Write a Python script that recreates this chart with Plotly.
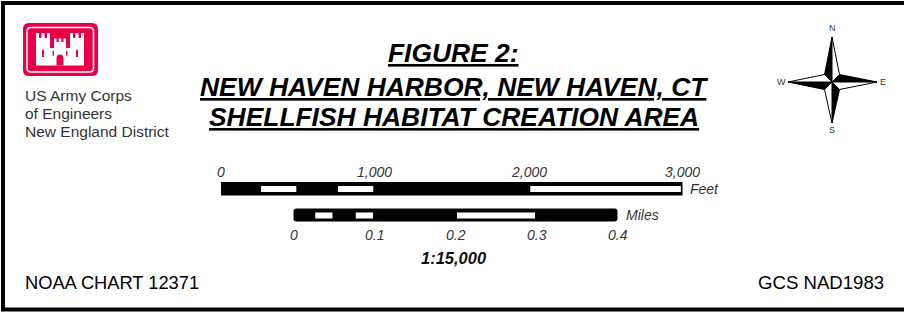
import plotly.graph_objects as go

W, H = 904, 312
FONT = "Liberation Sans, Arial, sans-serif"

# ---------------- data ----------------
feet_ticks = [0, 1000, 2000, 3000]
feet_tick_labels = ["0", "1,000", "2,000", "3,000"]
feet_breaks = [0, 250, 500, 750, 1000, 2000, 3000]
feet_fill = ["black", "white", "black", "white", "black", "white"]

mile_ticks = [0, 0.1, 0.2, 0.3, 0.4]
mile_tick_labels = ["0", "0.1", "0.2", "0.3", "0.4"]
mile_breaks = [0, 0.025, 0.05, 0.075, 0.1, 0.2, 0.3, 0.4]
mile_fill = ["black", "white", "black", "white", "black", "white", "black"]

title_lines = ["FIGURE 2:", "NEW HAVEN HARBOR, NEW HAVEN, CT", "SHELLFISH HABITAT CREATION AREA"]
agency_lines = ["US Army Corps", "of Engineers", "New England District"]
scale_text = "1:15,000"
chart_note = "NOAA CHART 12371"
datum_note = "GCS NAD1983"
compass_labels = ["N", "E", "S", "W"]

# ---------------- axis scaling (feet / miles) ----------------
FT_PX0, FT_PX1 = 221.0, 682.5
ppf = (FT_PX1 - FT_PX0) / feet_breaks[-1]
ft_range = [-FT_PX0 / ppf, (W - FT_PX0) / ppf]
MI_PX0, MI_PX1 = 293.5, 617.5
ppm = (MI_PX1 - MI_PX0) / mile_breaks[-1]
mi_range = [-MI_PX0 / ppm, (W - MI_PX0) / ppm]

fig = go.Figure()
# invisible anchors so the axes exist
fig.add_trace(go.Scatter(x=[0], y=[0], mode="markers", marker=dict(opacity=0), hoverinfo="skip", showlegend=False))
fig.add_trace(go.Scatter(x=[feet_breaks[0]], y=[0], xaxis="x2", mode="markers", marker=dict(opacity=0), hoverinfo="skip", showlegend=False))
fig.add_trace(go.Scatter(x=[mile_breaks[0]], y=[0], xaxis="x3", mode="markers", marker=dict(opacity=0), hoverinfo="skip", showlegend=False))

shapes = []
annotations = []


def rect(x0, y0, x1, y1, fill, xref="x", line_color=None, line_width=0):
    shapes.append(dict(type="rect", xref=xref, yref="y", x0=x0, x1=x1, y0=y0, y1=y1,
                       fillcolor=fill, line=dict(color=line_color or fill, width=line_width), layer="above"))


def path(d, fill, xref="x", line_color="black", line_width=0):
    shapes.append(dict(type="path", xref=xref, yref="y", path=d, fillcolor=fill,
                       line=dict(color=line_color, width=line_width), layer="above"))


def rrect_path(x0, y0, x1, y1, r):
    return (f"M {x0+r},{y0} L {x1-r},{y0} Q {x1},{y0} {x1},{y0+r} L {x1},{y1-r} "
            f"Q {x1},{y1} {x1-r},{y1} L {x0+r},{y1} Q {x0},{y1} {x0},{y1-r} "
            f"L {x0},{y0+r} Q {x0},{y0} {x0+r},{y0} Z")


def ann(text, x, y, size, color="#000", xref="x", xanchor="center", family=FONT):
    annotations.append(dict(text=text, x=x, y=y, xref=xref, yref="y", showarrow=False,
                            xanchor=xanchor, yanchor="middle", align="left",
                            font=dict(size=size, color=color, family=family)))


# ---------------- frame ----------------
rect(3, 3, 908, 309.5, "rgba(0,0,0,0)", line_color="black", line_width=4)

# ---------------- logo ----------------
RED = "#EA0046"
path(rrect_path(23, 23, 98, 76, 6), RED, line_width=0)
shapes.append(dict(type="path", xref="x", yref="y", path=rrect_path(27, 27.5, 93.5, 72, 4),
                   fillcolor="rgba(0,0,0,0)", line=dict(color="white", width=1.5), layer="above"))
# towers
rect(36, 38, 50, 65.5, "white")
rect(70, 38, 84, 65.5, "white")
for mx in (36, 41.5, 47):
    rect(mx, 33, mx + 3, 38.5, "white")
for mx in (70, 75.5, 81):
    rect(mx, 33, mx + 3, 38.5, "white")
# central wall + turret
rect(50, 48, 70, 65.5, "white")
rect(54, 42, 66, 48.5, "white")
for mx in (54, 58.75, 63.5):
    rect(mx, 38.5, mx + 2.5, 42.5, "white")
# door and windows
path("M 56.5,65.5 L 56.5,58.5 Q 56.5,54.5 60,54.5 Q 63.5,54.5 63.5,58.5 L 63.5,65.5 Z", RED)
rect(42, 50, 44, 57, RED)
rect(76, 50, 78, 57, RED)
rect(52.5, 51, 54, 55.5, RED)
rect(66, 51, 67.5, 55.5, RED)

for i, line in enumerate(agency_lines):
    ann(line, 22.5, 95 + i * 18, 15.5, color="#333", xanchor="left")

# ---------------- title ----------------
title_y = [53, 87, 117]
for line, ty in zip(title_lines, title_y):
    ann(f"<b><i><u>{line}</u></i></b>", 453.5, ty, 26.4, color="#000")

# ---------------- compass ----------------
cx, cy = 832, 82
tipN, tipS, tipW, tipE = (832, 37), (832, 123), (788, 82), (877, 82)
d = 7.5
UL, UR, LL, LR = (cx - d, cy - d), (cx + d, cy - d), (cx - d, cy + d), (cx + d, cy + d)
tris = [
    (tipN, UL, "black"), (tipN, UR, "white"),
    (tipE, UR, "black"), (tipE, LR, "white"),
    (tipS, LR, "black"), (tipS, LL, "white"),
    (tipW, LL, "black"), (tipW, UL, "white"),
]
for tip, inner, col in tris:
    path(f"M {cx},{cy} L {tip[0]},{tip[1]} L {inner[0]},{inner[1]} Z", col, line_color="black", line_width=1)
for lab, (lx, ly) in zip(compass_labels, [(832, 28), (883, 82), (832, 130), (781, 82)]):
    ann(lab, lx, ly, 9, color="#333")

# ---------------- feet scale bar ----------------
rect(feet_breaks[0], 182, feet_breaks[-1], 195.5, "black", xref="x2")
ins_f = 1.6 / ppf
for a, b, c in zip(feet_breaks[:-1], feet_breaks[1:], feet_fill):
    if c == "white":
        rect(a + ins_f, 186, b - ins_f, 192, "white", xref="x2")
for v, lab in zip(feet_ticks, feet_tick_labels):
    ann(f"<i>{lab}</i>", v, 171.5, 14, color="#333", xref="x2")
ann("<i>Feet</i>", feet_breaks[-1] + 5 / ppf, 189, 14, color="#333", xref="x2", xanchor="left")

# ---------------- miles scale bar ----------------
r = 3.0 / ppm
m0, m1 = mile_breaks[0], mile_breaks[-1]
y0, y1 = 208.5, 221.5
path(f"M {m0 + r},{y0} L {m1 - r},{y0} Q {m1},{y0} {m1},{y0 + 3} L {m1},{y1 - 3} Q {m1},{y1} {m1 - r},{y1} "
     f"L {m0 + r},{y1} Q {m0},{y1} {m0},{y1 - 3} L {m0},{y0 + 3} Q {m0},{y0} {m0 + r},{y0} Z",
     "black", xref="x3")
ins_m = 1.5 / ppm
for a, b, c in zip(mile_breaks[:-1], mile_breaks[1:], mile_fill):
    if c == "white":
        rect(a + ins_m, 212.5, b - ins_m, 218.5, "white", xref="x3")
for v, lab in zip(mile_ticks, mile_tick_labels):
    ann(f"<i>{lab}</i>", v, 235, 14, color="#333", xref="x3")
ann("<i>Miles</i>", mile_breaks[-1] + 6 / ppm, 215, 14, color="#333", xref="x3", xanchor="left")

ann(f"<b><i>{scale_text}</i></b>", 454, 258, 16.5, color="#111")

# ---------------- footer notes ----------------
ann(chart_note, 22.5, 282, 18.3, color="#000", xanchor="left")
ann(datum_note, 885.5, 282.5, 18.6, color="#000", xanchor="right")

fig.update_layout(
    width=W, height=H, margin=dict(l=0, r=0, t=0, b=0),
    paper_bgcolor="white", plot_bgcolor="white", showlegend=False,
    xaxis=dict(range=[0, W], visible=False, domain=[0, 1], fixedrange=True),
    xaxis2=dict(range=ft_range, visible=False, overlaying="x", domain=[0, 1], fixedrange=True),
    xaxis3=dict(range=mi_range, visible=False, overlaying="x", domain=[0, 1], fixedrange=True),
    yaxis=dict(range=[H, 0], visible=False, domain=[0, 1], fixedrange=True),
    shapes=shapes, annotations=annotations,
)
fig.write_html("out.html", config={"displayModeBar": False},
               post_script="document.body.style.margin='0';document.body.style.overflow='hidden';")
